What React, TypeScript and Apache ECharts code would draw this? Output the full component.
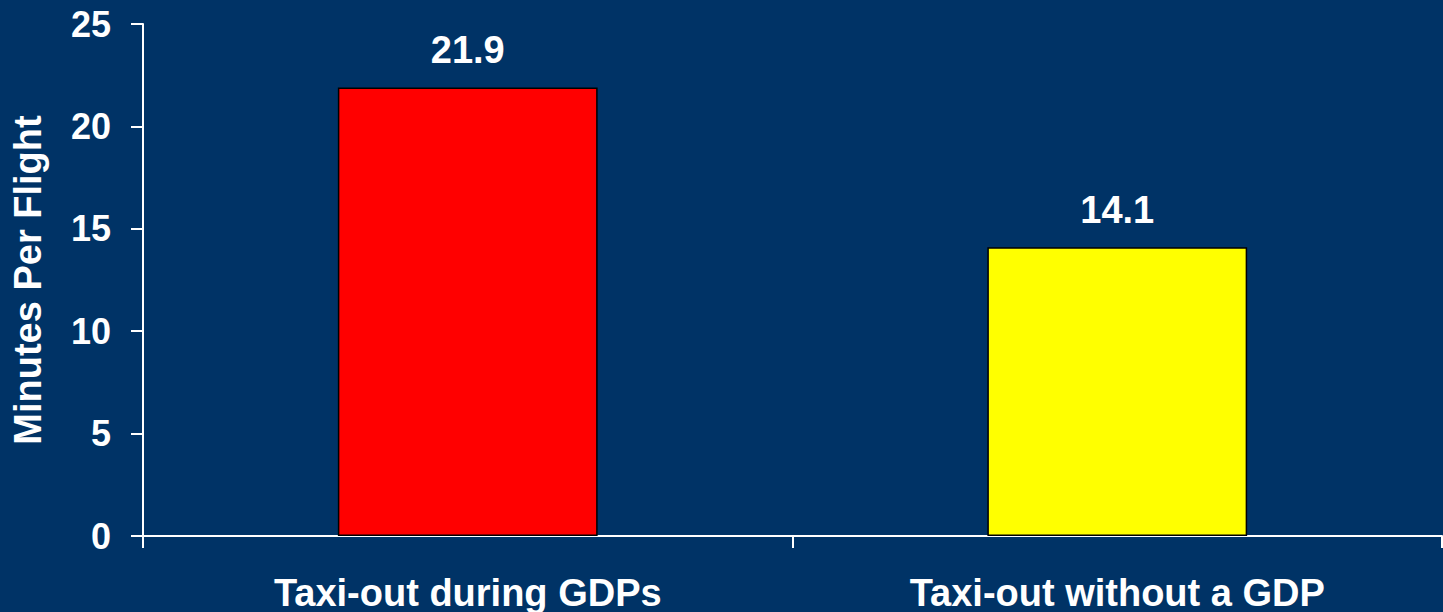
import React, { useEffect, useRef } from "react";
import * as echarts from "echarts";

const categories = ["Taxi-out during GDPs", "Taxi-out without a GDP"];
const values = [21.9, 14.1];
const barColors = ["#FF0000", "#FFFF00"];
const yTicks = { min: 0, max: 25, interval: 5 };

export default function App() {
  const ref = useRef<HTMLDivElement>(null);
  useEffect(() => {
    if (!ref.current) return;
    const chart = echarts.init(ref.current, null, { renderer: "svg" });
    const font = "'Liberation Sans', Arial, sans-serif";
    chart.setOption({
      animation: false,
      backgroundColor: "#003366",
      grid: { left: 143, right: 1, top: 24, bottom: 75, containLabel: false },
      xAxis: {
        type: "category",
        data: categories,
        axisLine: { lineStyle: { color: "#FFFFFF", width: 2 } },
        axisTick: { show: true, length: 12, lineStyle: { color: "#FFFFFF", width: 2 } },
        axisLabel: {
          color: "#FFFFFF",
          fontFamily: font,
          fontWeight: "bold",
          fontSize: 38,
          margin: 38,
        },
      },
      yAxis: {
        type: "value",
        min: yTicks.min,
        max: yTicks.max,
        interval: yTicks.interval,
        name: "Minutes Per Flight",
        nameLocation: "middle",
        nameGap: 96,
        nameTextStyle: {
          color: "#FFFFFF",
          fontFamily: font,
          fontWeight: "bold",
          fontSize: 38,
        },
        axisLine: { show: true, lineStyle: { color: "#FFFFFF", width: 2 } },
        axisTick: { show: true, length: 12, lineStyle: { color: "#FFFFFF", width: 2 } },
        splitLine: { show: false },
        axisLabel: {
          color: "#FFFFFF",
          fontFamily: font,
          fontWeight: "bold",
          fontSize: 36,
          margin: 32,
        },
      },
      series: [
        {
          type: "bar",
          barWidth: "40%",
          data: values.map((v, i) => ({
            value: v,
            itemStyle: { color: barColors[i], borderColor: "#000000", borderWidth: 1.5 },
          })),
          label: {
            show: true,
            position: "top",
            distance: 18,
            color: "#FFFFFF",
            fontFamily: font,
            fontWeight: "bold",
            fontSize: 38,
            formatter: (p: any) => p.value.toFixed(1),
          },
        },
      ],
    });
    return () => chart.dispose();
  }, []);
  return <div ref={ref} style={{ width: 1443, height: 612, position: "absolute", left: 0, top: 0 }} />;
}
